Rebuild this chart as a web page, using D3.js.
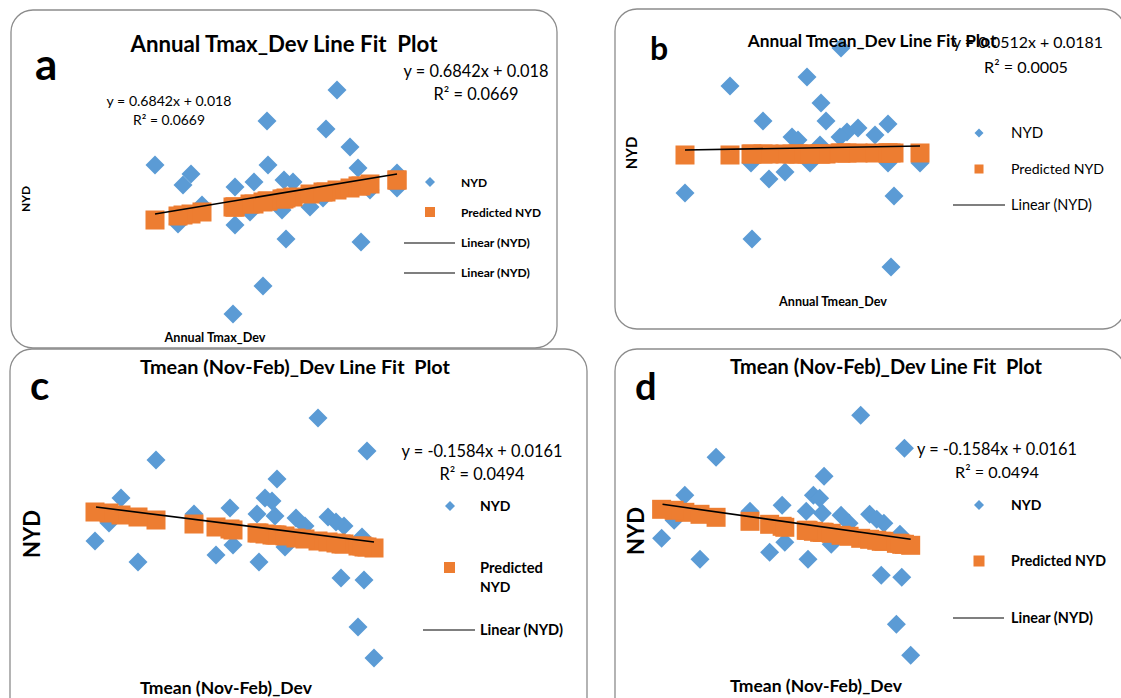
<!DOCTYPE html>
<html><head><meta charset="utf-8">
<script src="https://cdn.jsdelivr.net/npm/d3@7"></script>
<style>body{margin:0;background:#fff}svg{display:block}text{white-space:pre}</style>
</head><body>
<svg id="chart" width="1121" height="698"></svg>
<script>
// ---------- Panel a : Annual Tmax_Dev ----------
const aX    = [0.61,-0.09,0.50,0.74,-1.21,-0.08,0.82,-0.85,-0.93,-0.41,-0.22,0.08,0.17,1.21,1.21,-0.74,-0.98,-0.41,-0.26,0.06,0.34,0.47,0.10,0.85,-0.13,-0.43,0.94];
const aNYD  = [1.10,0.79,0.71,0.53,0.35,0.35,0.32,0.26,0.15,0.13,0.18,0.20,0.18,0.27,0.12,-0.05,-0.24,-0.25,-0.12,-0.10,-0.07,0.02,-0.39,-0.42,-0.86,-1.14,0.10];
const aPred = [0.10,-0.01,0.08,0.12,-0.20,-0.01,0.14,-0.14,-0.15,-0.07,-0.04,0.01,0.03,0.20,0.20,-0.12,-0.16,-0.07,-0.04,0.01,0.06,0.08,0.02,0.14,-0.02,-0.07,0.16];
const aTrendX = [-1.21, 1.21];
const aTrendY = [-0.14, 0.26];

// ---------- Panel b : Annual Tmean_Dev ----------
const bX    = [0.41,-0.70,0.07,0.21,-0.37,0.26,0.88,-0.08,-0.02,0.47,0.58,0.75,0.40,0.20,-0.49,0.10,0.88,1.20,-0.15,-0.31,-1.15,0.94,-0.48,0.91];
const bNYD  = [1.07,0.69,0.78,0.52,0.34,0.34,0.31,0.18,0.15,0.23,0.27,0.20,0.18,0.10,-0.08,-0.08,-0.08,-0.08,-0.17,-0.24,-0.38,-0.41,-0.84,-1.12];
const bPred = [0.02,0.00,0.01,0.01,0.01,0.01,0.02,0.01,0.01,0.02,0.02,0.02,0.02,0.01,0.01,0.01,0.02,0.02,0.01,0.01,0.00,0.02,0.01,0.02];
const bTrendX = [-1.15, 1.20];
const bTrendY = [0.05, 0.09];

// ---------- Panels c and d : Tmean (Nov-Feb)_Dev ----------
const cdX    = [0.83,1.32,-0.79,0.42,-1.14,0.30,0.37,-0.05,0.22,0.40,0.61,0.93,1.09,0.70,-0.41,-1.26,-1.40,-0.97,-0.19,-0.02,0.24,0.50,1.06,1.29,1.23,1.39,1.01,1.27];
const cdNYD  = [1.12,0.79,0.70,0.51,0.32,0.32,0.29,0.22,0.16,0.14,0.12,0.13,0.04,0.04,0.16,0.07,-0.11,-0.32,-0.25,-0.15,-0.32,-0.17,-0.48,-0.50,-0.97,-1.28,0.08,-0.07];
const cdPred = [-0.11,-0.17,0.10,-0.05,0.15,-0.04,-0.05,0.01,-0.03,-0.05,-0.08,-0.12,-0.14,-0.09,0.06,0.17,0.18,0.13,0.03,0.00,-0.03,-0.06,-0.14,-0.17,-0.16,-0.18,-0.13,-0.16];
const cdTrendX = [-1.39, 1.39];
const cdTrendY = [0.23, -0.12];

// ---------- texts ----------
const legendNames = ["NYD", "Predicted NYD", "Linear (NYD)"];
const eqA = ["y = 0.6842x + 0.018", "R² = 0.0669"];
const eqB = ["y = 0.0512x + 0.0181", "R² = 0.0005"];
const eqCD = ["y = -0.1584x + 0.0161", "R² = 0.0494"];

const BLUE = "#5b9bd5", ORANGE = "#ed7d31", FONT = "Lato, 'Open Sans', sans-serif";
const svg = d3.select("#chart");
svg.append("rect").attr("width",1121).attr("height",698).attr("fill","#fff");

const diamond = r => `M0,${-r}L${r},0L0,${r}L${-r},0Z`;

function txt(g, s, x, y, opt) {
  const t = g.append("text").text(s).attr("x", x).attr("y", y)
    .attr("xml:space", "preserve")
    .attr("font-family", FONT).attr("font-size", opt.size || 14)
    .attr("font-weight", opt.bold ? 700 : 400)
    .attr("fill", "#000")
    .attr("text-anchor", opt.anchor || "start");
  if (opt.rotate) t.attr("transform", `rotate(-90,${x},${y})`);
  if (opt.width) {
    const w = t.node().getComputedTextLength();
    if (w > 0) t.attr("font-size", (opt.size || 14) * opt.width / w);
  }
  return t;
}

function panel(cfg) {
  const g = svg.append("g");
  g.append("rect").attr("x", cfg.box[0]).attr("y", cfg.box[1])
    .attr("width", cfg.box[2]).attr("height", cfg.box[3])
    .attr("rx", 22).attr("ry", 22)
    .attr("fill", "#fff").attr("stroke", "#8c8c8c").attr("stroke-width", 1.3);
  const xs = d3.scaleLinear().domain([-1.5, 1.5]).range(cfg.xr);
  const ys = d3.scaleLinear().domain([-1.5, 1.5]).range(cfg.yr);
  const pts = cfg.x.map((v, i) => ({x: v, y: cfg.nyd[i], p: cfg.pred[i]}));
  g.append("g").selectAll("path").data(pts).join("path")
    .attr("d", diamond(9.5))
    .attr("transform", d => `translate(${xs(d.x)},${ys(d.y)})`)
    .attr("fill", BLUE);
  const sq = 19;
  g.append("g").selectAll("rect").data(pts).join("rect")
    .attr("x", d => xs(d.x) - sq / 2).attr("y", d => ys(d.p) - sq / 2)
    .attr("width", sq).attr("height", sq).attr("fill", ORANGE);
  const line = d3.line().x(d => xs(d[0])).y(d => ys(d[1]));
  g.append("path").datum(cfg.tx.map((v, i) => [v, cfg.ty[i]]))
    .attr("d", line).attr("fill", "none").attr("stroke", "#000").attr("stroke-width", 1.6);
  return g;
}

// Panel a
const ga = panel({box:[11,10,546,338], xr:[126,426], yr:[350,50], x:aX, nyd:aNYD, pred:aPred, tx:aTrendX, ty:aTrendY});
txt(ga, "a", 35, 80, {size:44, bold:true});
txt(ga, "Annual Tmax_Dev Line Fit  Plot", 284, 52, {size:20, bold:true, anchor:"middle", width:307});
txt(ga, eqA[0], 169, 106, {size:14, anchor:"middle", width:125});
txt(ga, eqA[1], 169, 125, {size:14, anchor:"middle", width:72});
txt(ga, eqA[0], 476, 77, {size:16, anchor:"middle", width:145});
txt(ga, eqA[1], 476, 100, {size:16, anchor:"middle", width:85});
txt(ga, "NYD", 30, 199, {size:12, bold:true, anchor:"middle", rotate:true});
txt(ga, "Annual Tmax_Dev", 215, 342, {size:12, bold:true, anchor:"middle", width:101});
ga.append("path").attr("d", diamond(5)).attr("transform","translate(430,182)").attr("fill", BLUE);
ga.append("rect").attr("x",425).attr("y",207).attr("width",10).attr("height",10).attr("fill", ORANGE);
[243, 273].forEach(y => ga.append("line").attr("x1",404).attr("x2",455).attr("y1",y).attr("y2",y).attr("stroke","#000").attr("stroke-width",1.2));
txt(ga, legendNames[0], 461, 187, {size:12, bold:true});
txt(ga, legendNames[1], 461, 217, {size:12, bold:true, width:80});
txt(ga, legendNames[2], 461, 247, {size:12, bold:true, width:69});
txt(ga, legendNames[2], 461, 277, {size:12, bold:true, width:69});

// Panel b
const gb = panel({box:[615,9,510,320], xr:[650,950], yr:[305,5], x:bX, nyd:bNYD, pred:bPred, tx:bTrendX, ty:bTrendY});
txt(gb, "b", 650, 60, {size:32, bold:true});
txt(gb, "Annual Tmean_Dev Line Fit  Plot", 872, 47, {size:16, bold:true, anchor:"middle", width:249});
txt(gb, eqB[0], 953, 48, {size:16, width:150});
txt(gb, eqB[1], 984, 73, {size:16, width:84});
txt(gb, "NYD", 637, 153, {size:15, bold:true, anchor:"middle", rotate:true});
txt(gb, "Annual Tmean_Dev", 833, 306, {size:12, bold:true, anchor:"middle", width:108});
gb.append("path").attr("d", diamond(4.5)).attr("transform","translate(979,133)").attr("fill", BLUE);
gb.append("rect").attr("x",974.5).attr("y",164.5).attr("width",9).attr("height",9).attr("fill", ORANGE);
gb.append("line").attr("x1",953).attr("x2",1005).attr("y1",205).attr("y2",205).attr("stroke","#000").attr("stroke-width",1.2);
txt(gb, legendNames[0], 1011, 138, {size:15});
txt(gb, legendNames[1], 1011, 174, {size:15, width:93});
txt(gb, legendNames[2], 1011, 210, {size:15, width:81});

// Panel c
const gc = panel({box:[10,349,577,380], xr:[85,385], yr:[680,380], x:cdX, nyd:cdNYD, pred:cdPred, tx:cdTrendX, ty:cdTrendY});
txt(gc, "c", 30, 400, {size:40, bold:true});
txt(gc, "Tmean (Nov-Feb)_Dev Line Fit  Plot", 295, 374, {size:18, bold:true, anchor:"middle", width:310});
txt(gc, eqCD[0], 482, 457, {size:16, anchor:"middle", width:161});
txt(gc, eqCD[1], 482, 480, {size:16, anchor:"middle", width:85});
txt(gc, "NYD", 40, 534, {size:22, bold:true, anchor:"middle", rotate:true});
txt(gc, "Tmean (Nov-Feb)_Dev", 226, 694, {size:17, bold:true, anchor:"middle", width:172});
gc.append("path").attr("d", diamond(5)).attr("transform","translate(450,506)").attr("fill", BLUE);
gc.append("rect").attr("x",444).attr("y",562).attr("width",11).attr("height",11).attr("fill", ORANGE);
gc.append("line").attr("x1",423).attr("x2",475).attr("y1",630).attr("y2",630).attr("stroke","#000").attr("stroke-width",1.2);
txt(gc, legendNames[0], 480, 511, {size:14, bold:true});
txt(gc, "Predicted", 480, 573, {size:14, bold:true, width:63});
txt(gc, "NYD", 480, 592, {size:14, bold:true});
txt(gc, legendNames[2], 480, 635, {size:14, bold:true, width:83});

// Panel d
const gd = panel({box:[615,349,510,380], xr:[652.7,920.5], yr:[677.3,377.3], x:cdX, nyd:cdNYD, pred:cdPred, tx:cdTrendX, ty:cdTrendY});
txt(gd, "d", 635, 400, {size:38, bold:true});
txt(gd, "Tmean (Nov-Feb)_Dev Line Fit  Plot", 886, 374, {size:18, bold:true, anchor:"middle", width:312});
txt(gd, eqCD[0], 917, 455, {size:16, width:160});
txt(gd, eqCD[1], 997, 478, {size:16, anchor:"middle", width:84});
txt(gd, "NYD", 644, 531, {size:22, bold:true, anchor:"middle", rotate:true});
txt(gd, "Tmean (Nov-Feb)_Dev", 816, 692, {size:17, bold:true, anchor:"middle", width:172});
gd.append("path").attr("d", diamond(5)).attr("transform","translate(979,505)").attr("fill", BLUE);
gd.append("rect").attr("x",973.5).attr("y",555.5).attr("width",11).attr("height",11).attr("fill", ORANGE);
gd.append("line").attr("x1",953).attr("x2",1004).attr("y1",618).attr("y2",618).attr("stroke","#000").attr("stroke-width",1.2);
txt(gd, legendNames[0], 1011, 510, {size:14, bold:true});
txt(gd, legendNames[1], 1011, 566, {size:14, bold:true, width:95});
txt(gd, legendNames[2], 1011, 623, {size:14, bold:true, width:82});
</script>
</body></html>
